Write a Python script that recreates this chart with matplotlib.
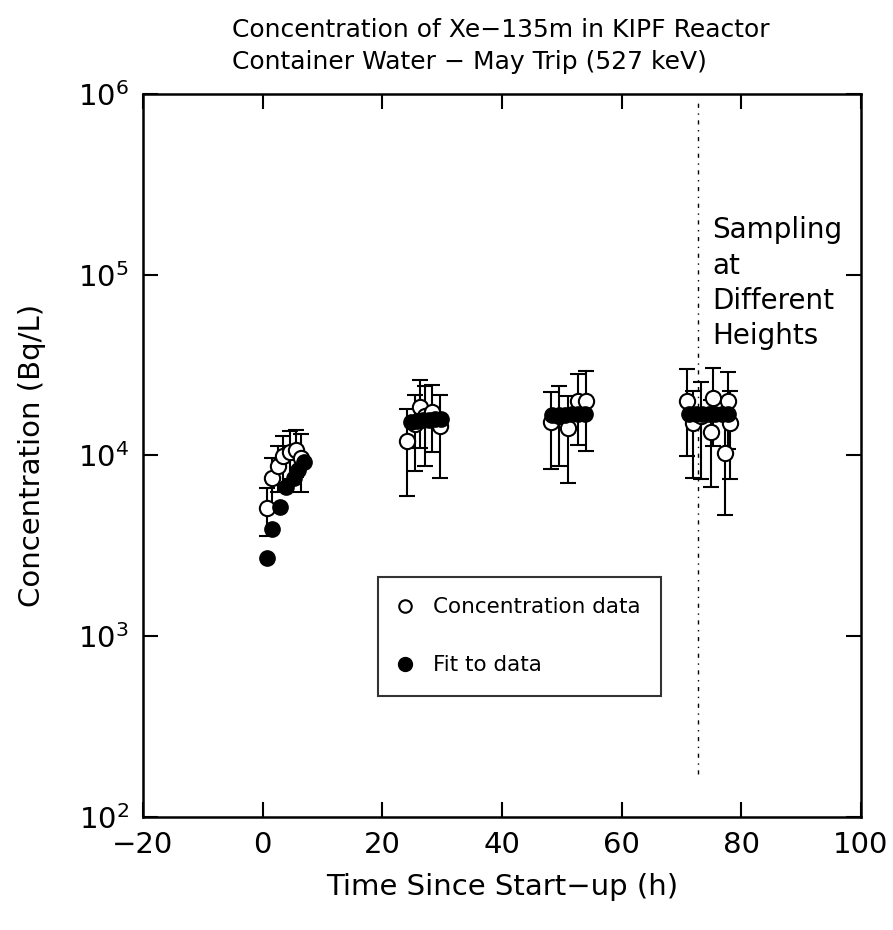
import numpy as np
import matplotlib
matplotlib.use("Agg")
from matplotlib import pyplot as plt
from matplotlib.lines import Line2D

# measured concentration (open circles) with error bars
data_t = [0.8, 1.5, 2.6, 3.5, 4.6, 5.6, 6.5,
          24.2, 25.5, 26.3, 27.2, 28.3, 29.6,
          48.2, 49.6, 51.0, 52.7, 54.1,
          70.9, 71.9, 73.2, 75.0, 75.3, 77.3, 77.8, 78.1]
data_c = [5100, 7500, 8800, 9900, 10500, 10700, 9700,
          12000, 14900, 18600, 16500, 17500, 14500,
          15400, 16500, 14200, 19900, 19900,
          19900, 15100, 16500, 13500, 20800, 10300, 19900, 15100]
data_err = [1500, 2200, 2500, 2900, 3100, 3100, 3400,
            6000, 6700, 7600, 7800, 7000, 7000,
            7000, 7800, 7200, 8500, 9300,
            10000, 7600, 9100, 6800, 9500, 5600, 9000, 7700]

# fitted values (filled circles)
fit_t = [0.8, 1.6, 2.9, 4.0, 5.2, 6.0, 7.0,
         24.8, 25.8, 26.8, 27.8, 28.8, 29.8,
         48.4, 49.5, 50.6, 51.7, 52.8, 53.9,
         71.3, 72.4, 73.5, 74.6, 75.7, 76.8, 77.8]
fit_c = [2700, 3900, 5200, 6700, 7500, 8300, 9200,
         15300, 15500, 15700, 15800, 15900, 16000,
         16700, 16800, 16800, 16900, 16900, 16900,
         17000, 17000, 17000, 17000, 17000, 17000, 17000]

sampling_t = 72.8

xticks = [-20, 0, 20, 40, 60, 80, 100]
yticks = [1e2, 1e3, 1e4, 1e5, 1e6]

fig = plt.figure(figsize=(8.93, 9.3), dpi=100)
ax = fig.add_axes([0.160, 0.1215, 0.804, 0.7775])

ax.errorbar(data_t, data_c, yerr=data_err, fmt="o", mfc="white", mec="black",
            ecolor="black", ms=11, mew=1.5, elinewidth=1.5, capsize=5.5,
            capthick=1.5, zorder=3)
ax.plot(fit_t, fit_c, "o", color="black", ms=11, zorder=4)

ax.axvline(sampling_t, ymin=0.06, ymax=0.995, color="black", lw=1,
           linestyle=(0, (3, 4, 1, 4)))

ax.text(75.2, 2.1e5, "Sampling\nat\nDifferent\nHeights", fontsize=20,
        va="top", ha="left", linespacing=1.33)

ax.set_yscale("log")
ax.set_xlim(-20, 100)
ax.set_ylim(1e2, 1e6)
ax.set_xticks(xticks)
ax.set_yticks(yticks)
ax.minorticks_off()
ax.tick_params(direction="in", length=11, width=1.5, top=True, right=True,
               labelsize=21, pad=10)
for s in ax.spines.values():
    s.set_linewidth(1.8)

ax.set_xlabel("Time Since Start\u2212up (h)", fontsize=21, labelpad=10)
ax.set_ylabel("Concentration (Bq/L)", fontsize=21, labelpad=23)

fig.text(232 / 893, 1 - 18 / 930,
         "Concentration of Xe\u2212135m in KIPF Reactor\n"
         "Container Water \u2212 May Trip (527 keV)",
         fontsize=18, ha="left", va="top", linespacing=1.42)

handles = [Line2D([], [], ls="none", marker="o", mfc="white", mec="black", ms=9, mew=1.5),
           Line2D([], [], ls="none", marker="o", color="black", ms=10)]
leg = ax.legend(handles, ["Concentration data", "Fit to data"],
                loc="lower left", bbox_to_anchor=(0.327, 0.168), fontsize=15.5,
                frameon=True, fancybox=False, edgecolor="black",
                labelspacing=1.75, borderpad=0.95, handlelength=0.6,
                handletextpad=1.0, borderaxespad=0)
leg.get_frame().set_linewidth(1.5)

fig.savefig("out.png", dpi=100)
